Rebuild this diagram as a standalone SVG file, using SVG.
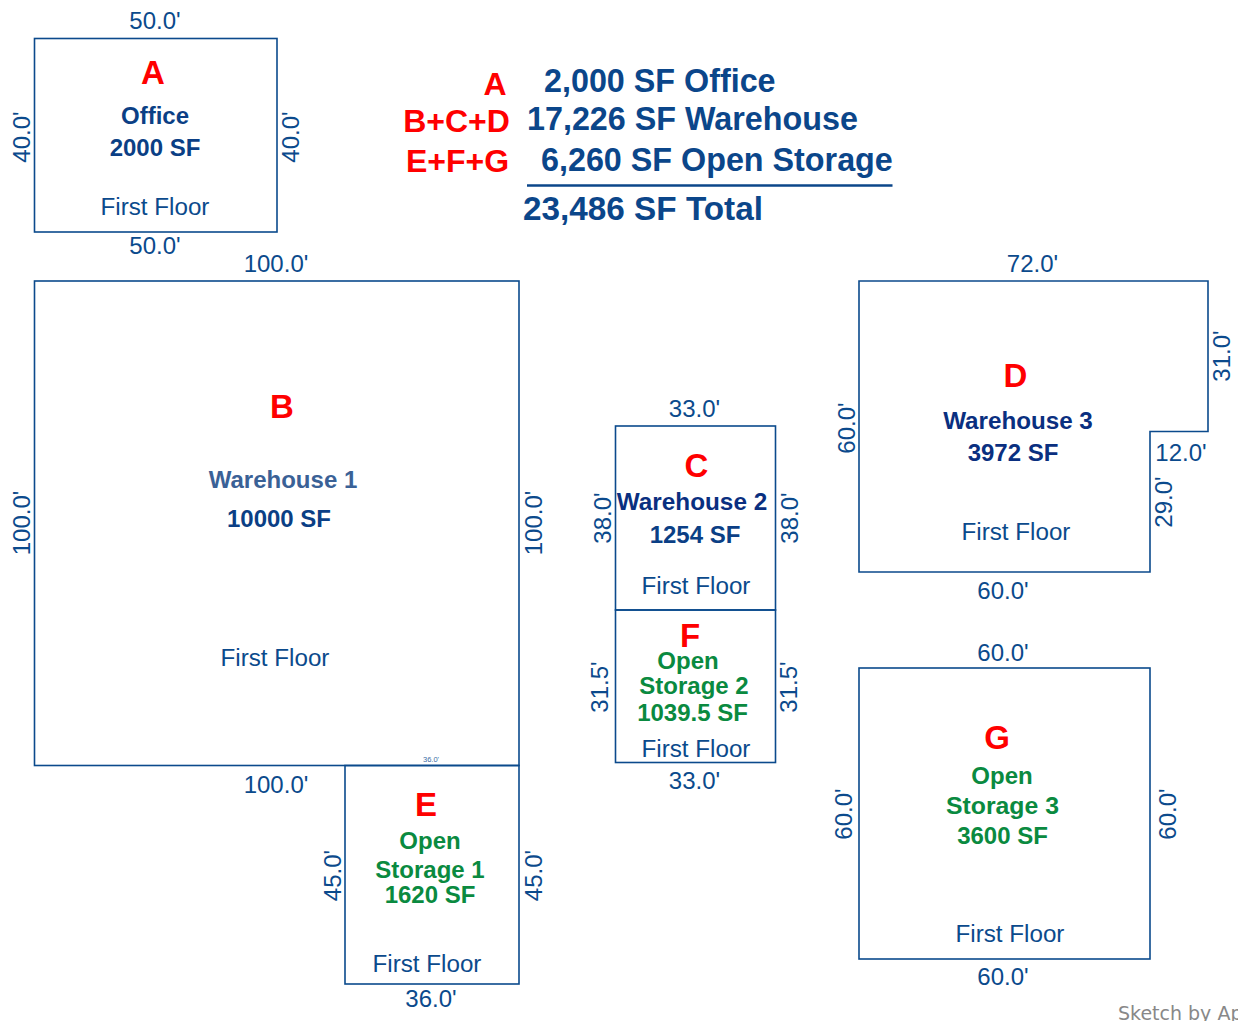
<svg xmlns="http://www.w3.org/2000/svg" width="1238" height="1021" viewBox="0 0 1238 1021">
<style>
text{font-family:"Liberation Sans",Arial,sans-serif;text-anchor:middle}
.o{fill:none;stroke:#0b4a8c;stroke-width:1.6}
.d{fill:#0b4a8c;font-size:24px}
.f{fill:#0b4a8c;font-size:24.2px}
.l{fill:#ff0000;font-size:33px;font-weight:bold}
.n{fill:#0b3f85;font-size:24px;font-weight:bold}
.g{fill:#0a8a40;font-size:24px;font-weight:bold}
.s{fill:#0b468a;font-size:32.300px;font-weight:bold;text-anchor:start}
.r{fill:#ff0000;font-size:32px;font-weight:bold}
</style>
<rect width="1238" height="1021" fill="#fff"/>
<g id="summary">
<text class="r" x="495" y="95">A</text>
<text class="r" x="456.500" y="132">B+C+D</text>
<text class="r" x="457.500" y="172">E+F+G</text>
<text class="s" x="544" y="92">2,000 SF Office</text>
<text class="s" x="527" y="130">17,226 SF Warehouse</text>
<text class="s" x="541" y="171">6,260 SF Open Storage</text>
<text class="s" x="523" y="220" style="font-size:33.300px">23,486 SF Total</text>
<line x1="527" y1="185.500" x2="892.500" y2="185.500" stroke="#0b468a" stroke-width="2.500"/>
</g>
<g id="room-a">
<rect class="o" x="34.500" y="38.500" width="242.500" height="193.500"/>
<text class="d" x="155" y="29">50.0'</text><text class="d" x="155" y="254">50.0'</text>
<text class="d" transform="translate(30,137) rotate(-90)">40.0'</text><text class="d" transform="translate(299,137) rotate(-90)">40.0'</text>
<text class="l" x="153" y="84">A</text><text class="n" x="155" y="124">Office</text><text class="n" x="155" y="156">2000 SF</text><text class="f" x="155" y="215">First Floor</text>
</g>
<g id="room-b">
<rect class="o" x="34.500" y="281" width="484.500" height="484.500"/>
<text class="d" x="276" y="272">100.0'</text><text class="d" x="276" y="793">100.0'</text>
<text class="d" transform="translate(30,523) rotate(-90)">100.0'</text><text class="d" transform="translate(542,523) rotate(-90)">100.0'</text>
<text class="l" x="282" y="418">B</text><text class="n" x="283" y="488" style="fill:#3a6196">Warehouse 1</text><text class="n" x="279" y="527">10000 SF</text><text class="f" x="275" y="666">First Floor</text>
</g>
<g id="room-c">
<rect class="o" x="615.500" y="426" width="160" height="184"/>
<text class="d" x="694.500" y="417">33.0'</text>
<text class="d" transform="translate(611,518) rotate(-90)">38.0'</text><text class="d" transform="translate(798,518) rotate(-90)">38.0'</text>
<text class="l" x="696.500" y="477">C</text><text class="n" x="692" y="510" style="fill:#0a2f80;font-size:24.300px">Warehouse 2</text><text class="n" x="695" y="543">1254 SF</text><text class="f" x="696" y="594">First Floor</text>
</g>
<g id="room-d">
<path class="o" d="M859 281H1208V431.500H1150V572H859Z"/>
<text class="d" x="1032.500" y="272">72.0'</text><text class="d" x="1003" y="599">60.0'</text><text class="d" x="1181" y="461">12.0'</text>
<text class="d" transform="translate(855,428) rotate(-90)">60.0'</text><text class="d" transform="translate(1230,356) rotate(-90)">31.0'</text><text class="d" transform="translate(1172,502) rotate(-90)">29.0'</text>
<text class="l" x="1015.500" y="387">D</text><text class="n" x="1018" y="429" style="fill:#0a2f80;font-size:24.200px">Warehouse 3</text><text class="n" x="1013" y="461" style="fill:#0a2f80">3972 SF</text><text class="f" x="1016" y="540">First Floor</text>
</g>
<g id="room-e">
<rect class="o" x="345" y="765.500" width="174" height="218.500"/>
<text x="431" y="762" style="fill:#3a6ba5;font-size:7.500px">36.0'</text><text class="d" x="431" y="1007">36.0'</text>
<text class="d" transform="translate(341,875.500) rotate(-90)">45.0'</text><text class="d" transform="translate(542,875.500) rotate(-90)">45.0'</text>
<text class="l" x="426" y="816">E</text><text class="g" x="430" y="849">Open</text><text class="g" x="430" y="878">Storage 1</text><text class="g" x="430" y="903">1620 SF</text><text class="f" x="427" y="972">First Floor</text>
</g>
<g id="room-f">
<rect class="o" x="615.500" y="610" width="160" height="152.500"/>
<text class="d" x="694.500" y="789">33.0'</text>
<text class="d" transform="translate(608,687) rotate(-90)">31.5'</text><text class="d" transform="translate(797,687) rotate(-90)">31.5'</text>
<text class="l" x="690" y="647">F</text><text class="g" x="688" y="669">Open</text><text class="g" x="694" y="694">Storage 2</text><text class="g" x="692.500" y="721">1039.5 SF</text><text class="f" x="696" y="757">First Floor</text>
</g>
<g id="room-g">
<rect class="o" x="859" y="668" width="291" height="291"/>
<text class="d" x="1003" y="661">60.0'</text><text class="d" x="1003" y="985">60.0'</text>
<text class="d" transform="translate(852,814) rotate(-90)">60.0'</text><text class="d" transform="translate(1176,814) rotate(-90)">60.0'</text>
<text class="l" x="997" y="749">G</text><text class="g" x="1002" y="784">Open</text><text class="g" x="1002.500" y="814" style="font-size:24.800px">Storage 3</text><text class="g" x="1002.500" y="844">3600 SF</text><text class="f" x="1010" y="942">First Floor</text>
</g>
<text x="1118" y="1020" style="text-anchor:start;fill:#888;font-size:19px;font-family:'DejaVu Sans',sans-serif">Sketch by Ap</text>
</svg>
